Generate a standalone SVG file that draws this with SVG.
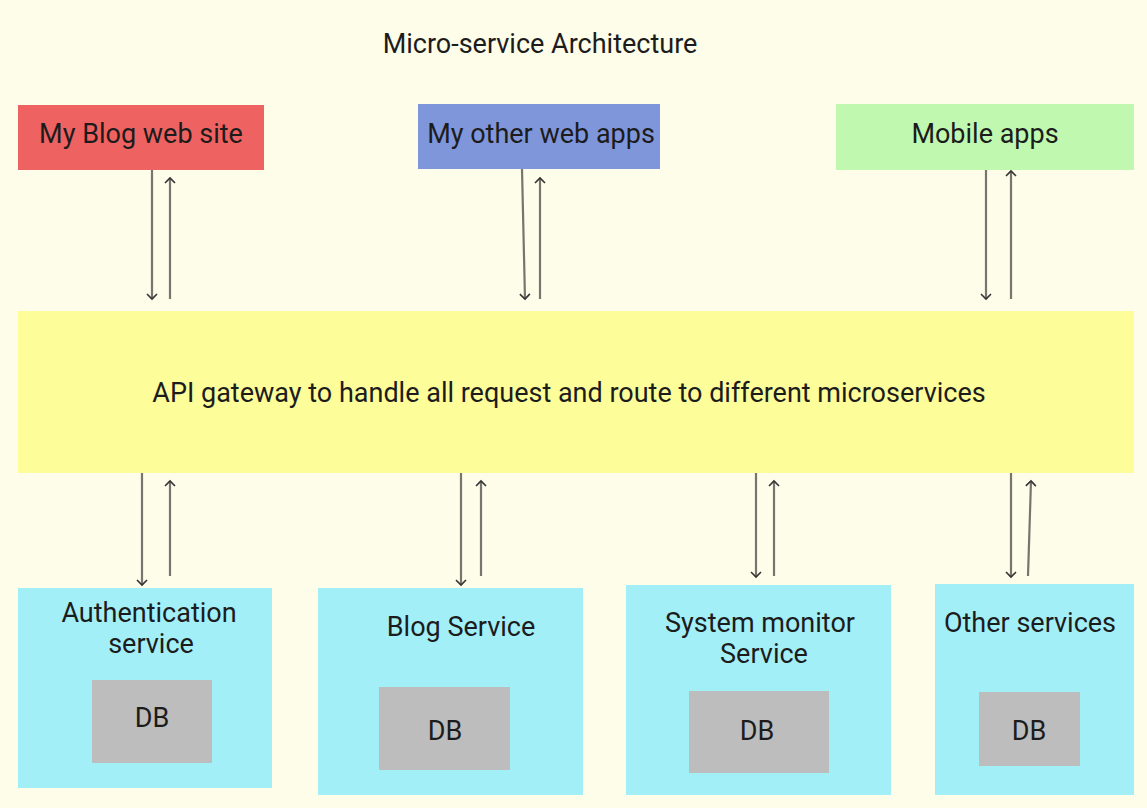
<svg xmlns="http://www.w3.org/2000/svg" width="1147" height="808" viewBox="0 0 1147 808">
<defs>
<marker id="ah" markerUnits="userSpaceOnUse" markerWidth="14" markerHeight="14" refX="7" refY="7" orient="auto" viewBox="0 0 14 14">
<path d="M2,2 L7,7 L2,12" fill="none" stroke="#333" stroke-width="1.6"/>
</marker>
</defs>
<style>
text{font-family:Roboto,"Liberation Sans",sans-serif;fill:#1c1c1c;font-size:27px;text-anchor:middle}
.con line{stroke:#76766e;stroke-width:2.2;marker-end:url(#ah)}
.svc{fill:#a3eff8}
.db{fill:#bdbdbd}
</style>
<rect width="1147" height="808" fill="#fefde9"/>
<text x="540" y="53" font-size="25">Micro-service Architecture</text>
<g id="blog-site"><rect x="18" y="105" width="246" height="65" fill="#ef6262"/><text x="141" y="143">My Blog web site</text></g>
<g id="other-web-apps"><rect x="418" y="104" width="242" height="65" fill="#7f97da"/><text x="541" y="143">My other web apps</text></g>
<g id="mobile-apps"><rect x="836" y="104" width="298" height="66" fill="#c0f8b0"/><text x="985" y="143">Mobile apps</text></g>
<g id="gateway"><rect x="18" y="311" width="1116" height="162" fill="#fdfd99"/><text x="569" y="402">API gateway to handle all request and route to different microservices</text></g>
<g id="auth"><rect class="svc" x="18" y="588" width="254" height="200"/><text x="149" y="622">Authentication</text><text x="151" y="653">service</text><rect class="db" x="92" y="680" width="120" height="83"/><text x="152" y="727">DB</text></g>
<g id="blog-service"><rect class="svc" x="318" y="588" width="265" height="207"/><text x="461" y="636">Blog Service</text><rect class="db" x="379" y="687" width="131" height="83"/><text x="445" y="740">DB</text></g>
<g id="monitor"><rect class="svc" x="626" y="585" width="265" height="210"/><text x="760" y="632">System monitor</text><text x="764" y="663">Service</text><rect class="db" x="689" y="691" width="140" height="82"/><text x="757" y="740">DB</text></g>
<g id="other-services"><rect class="svc" x="935" y="584" width="199" height="211"/><text x="1030" y="632">Other services</text><rect class="db" x="979" y="692" width="101" height="74"/><text x="1029" y="740">DB</text></g>
<g class="con" id="connectors">
<line x1="152" y1="170" x2="152" y2="299"/>
<line x1="170" y1="299" x2="170" y2="178"/>
<line x1="522" y1="169" x2="525" y2="299"/>
<line x1="540" y1="299" x2="540" y2="178"/>
<line x1="986" y1="170" x2="986" y2="299"/>
<line x1="1011" y1="299" x2="1011" y2="171"/>
<line x1="142" y1="473" x2="142" y2="585"/>
<line x1="170" y1="576" x2="170" y2="481"/>
<line x1="461" y1="473" x2="461" y2="585"/>
<line x1="481" y1="576" x2="481" y2="481"/>
<line x1="756" y1="473" x2="756" y2="577"/>
<line x1="774" y1="576" x2="774" y2="481"/>
<line x1="1011" y1="473" x2="1011" y2="577"/>
<line x1="1028" y1="576" x2="1031" y2="481"/>
</g>
</svg>
